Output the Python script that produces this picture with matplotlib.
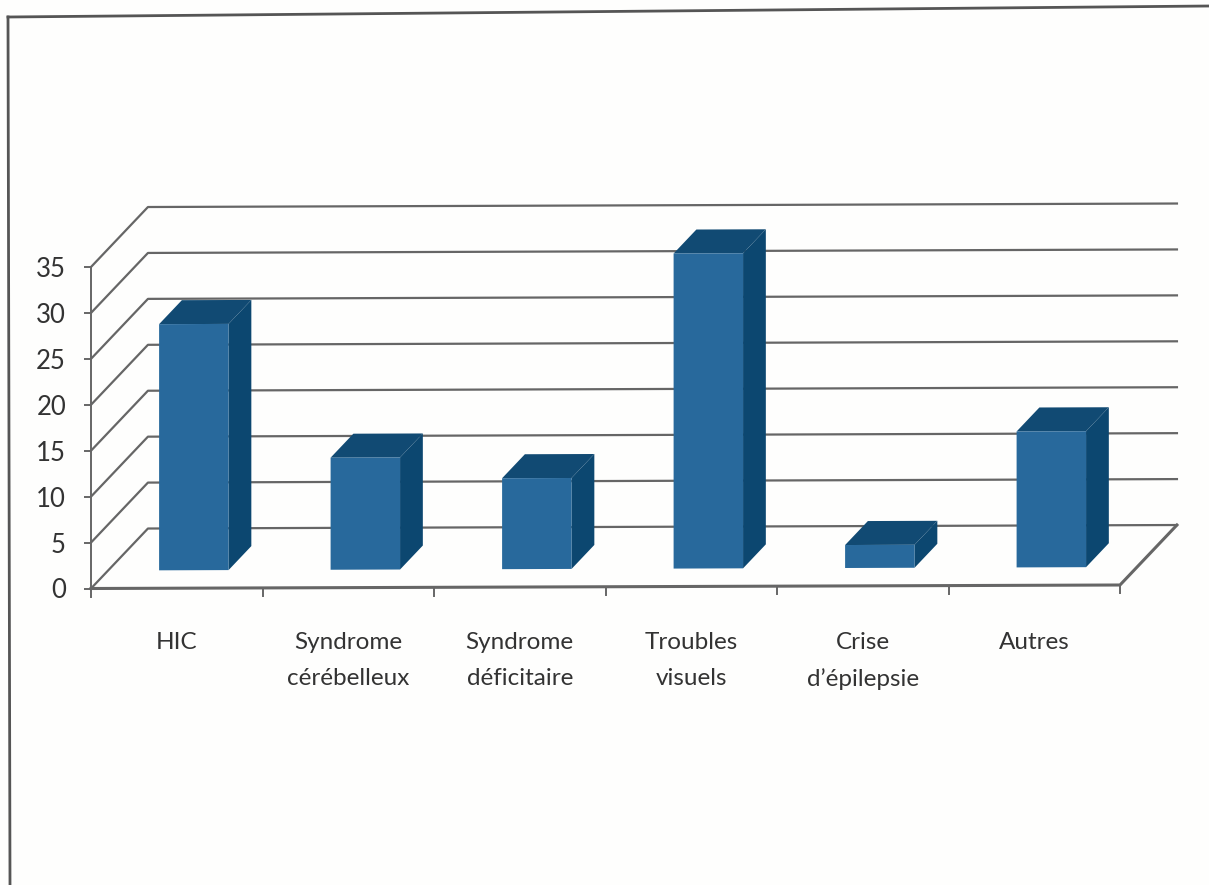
import matplotlib
matplotlib.use('Agg')
import matplotlib.pyplot as plt
from matplotlib.lines import Line2D

categories = ['HIC', 'Syndrome\ncérébelleux', 'Syndrome\ndéficitaire',
              'Troubles\nvisuels', 'Crise\nd\u2019épilepsie', 'Autres']
values = [26.8, 12.2, 9.9, 34.3, 2.5, 14.8]
y_ticks = [0, 5, 10, 15, 20, 25, 30, 35]

W, H = 1209, 885
FRONT = '#28699c'
TOP = '#114a73'
SIDE = '#0c4770'
LINE = '#666666'

# oblique projection of the fake 3D box, in data units
DEPTH_X = 0.332
DEPTH_Y = 6.53
TILT = -0.0635   # the scan is slightly rotated
BAR_W = 0.405
BAR_D0 = 0.30
BAR_D1 = 0.70


def proj(x, y, d=0.0):
    return x + d * DEPTH_X, y + d * DEPTH_Y - TILT * x


def face(ax, pts, color, z):
    xy = [proj(*p) for p in pts]
    ax.fill([p[0] for p in xy], [p[1] for p in xy], color=color, lw=0, zorder=z, clip_on=False)


plt.rcParams['font.family'] = ['Lato', 'DejaVu Sans']
fig = plt.figure(figsize=(W / 100, H / 100), dpi=100, facecolor='#fefefd')

# front plane of the chart
ax = fig.add_axes([91 / W, 1 - 588.5 / H, 1029 / W, 321.5 / H])
ax.patch.set_alpha(0)
ax.set_xlim(0, 6)
ax.set_ylim(0, 35)
for s in ['top', 'right', 'bottom']:
    ax.spines[s].set_visible(False)
ax.spines['left'].set_color(LINE)
ax.spines['left'].set_linewidth(1.4)

# gridlines on the back wall, with the diagonal on the left side wall
for v in y_ticks:
    xs, ys = zip(proj(0, v), proj(0, v, 1), proj(6, v, 1))
    ax.plot(xs, ys, color=LINE, lw=1.6, zorder=1, clip_on=False)

# floor outline
xs, ys = zip(proj(0, 0), proj(6, 0), proj(6, 0, 1))
ax.plot(xs, ys, color=LINE, lw=2.2, zorder=2, clip_on=False)
for i in range(7):
    xs, ys = zip(proj(i, 0), proj(i, 0))
    ax.plot(xs, [ys[0], ys[0] - 0.9], color=LINE, lw=1.4, zorder=2, clip_on=False)

# bars
for i, v in enumerate(values):
    x0 = i + 0.5 - BAR_W / 2
    x1 = i + 0.5 + BAR_W / 2
    base = 0
    face(ax, [(x1, base, BAR_D0), (x1, base, BAR_D1), (x1, v, BAR_D1), (x1, v, BAR_D0)], SIDE, 3)
    face(ax, [(x0, v, BAR_D0), (x1, v, BAR_D0), (x1, v, BAR_D1), (x0, v, BAR_D1)], TOP, 3)
    face(ax, [(x0, base, BAR_D0), (x1, base, BAR_D0), (x1, v, BAR_D0), (x0, v, BAR_D0)], FRONT, 4)

ax.set_yticks(y_ticks)
ax.tick_params(axis='y', length=5, width=1.4, color=LINE, labelsize=18.5, labelcolor='#333333', pad=13)
ax.set_xticks([])
ax.set_xticks([i + 0.5 for i in range(6)], categories, minor=True)
ax.tick_params(axis='x', which='minor', length=0, labelsize=17.5, labelcolor='#333333', pad=31)
for t in ax.get_xticklabels(minor=True):
    t.set_linespacing(1.9)
    t.set_verticalalignment('top')

# scanned page frame
fig.add_artist(Line2D([8 / W, 1], [1 - 17 / H, 1 - 6 / H], color='#555555', lw=2))
fig.add_artist(Line2D([8 / W, 10 / W], [1 - 17 / H, 0], color='#555555', lw=2))

fig.savefig('out.png', dpi=100, facecolor=fig.get_facecolor())
